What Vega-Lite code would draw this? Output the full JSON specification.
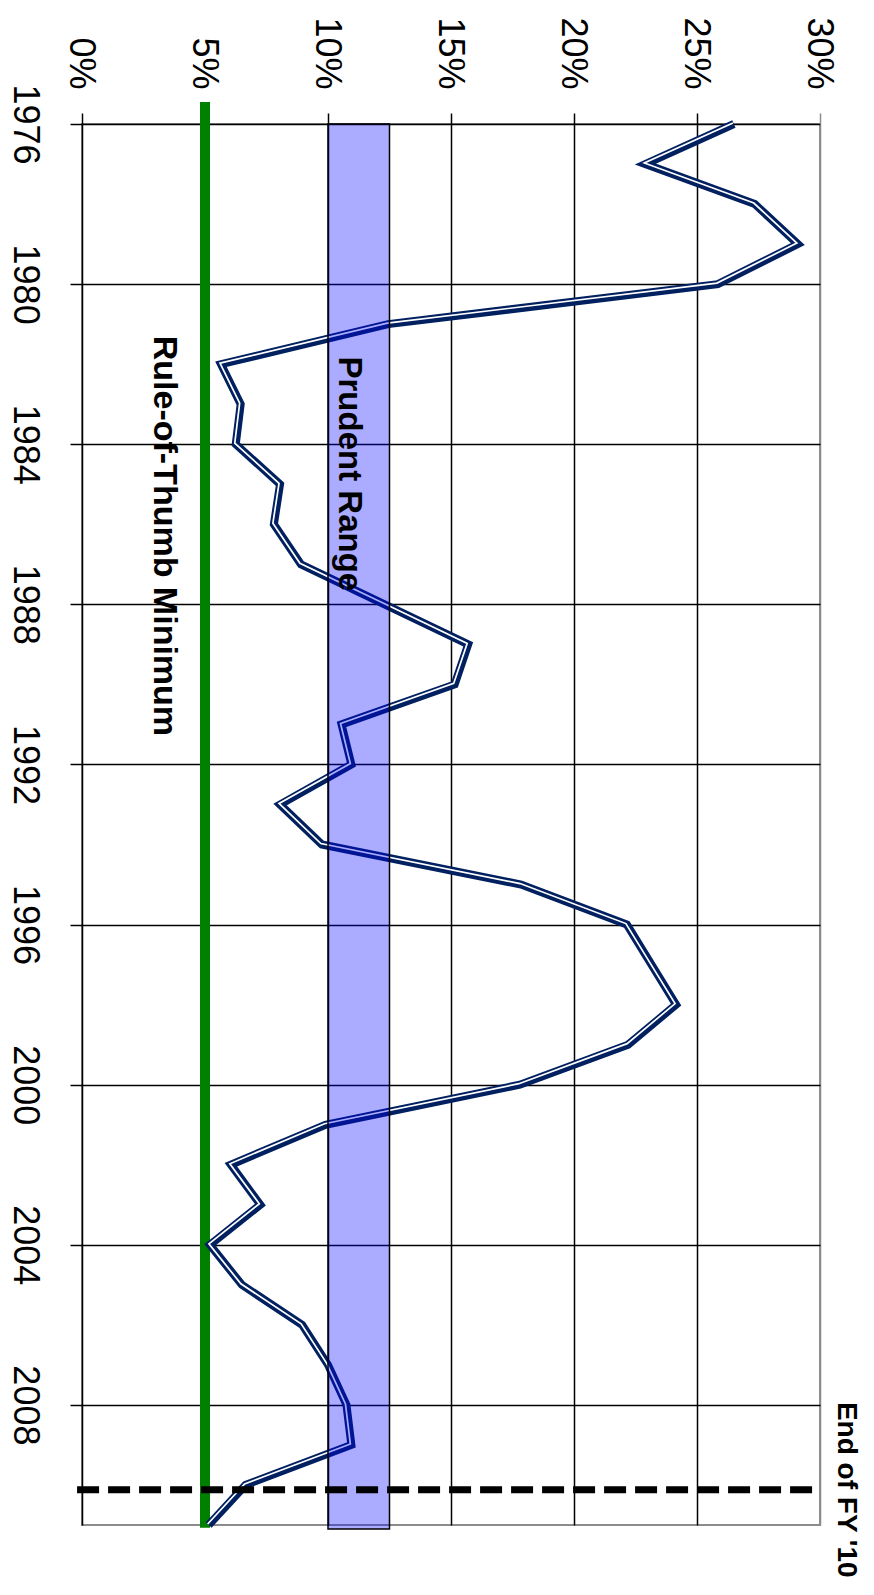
{
  "$schema": "https://vega.github.io/schema/vega-lite/v6.json",
  "width": 738,
  "height": 1401,
  "autosize": {"type": "none"},
  "padding": {"left": 82, "top": 124, "right": 54, "bottom": 70},
  "background": "white",
  "config": {
    "view": {"stroke": "#8c8c8c", "strokeWidth": 2},
    "font": "Liberation Sans"
  },
  "resolve": {"axis": {"x": "independent", "y": "independent"}},
  "datasets": {
    "ratio": [
      {"year": 1976, "pct": 26.5},
      {"year": 1977, "pct": 22.9},
      {"year": 1978, "pct": 27.35},
      {"year": 1979, "pct": 29.1},
      {"year": 1980, "pct": 25.85},
      {"year": 1981, "pct": 12.45},
      {"year": 1982, "pct": 5.65},
      {"year": 1983, "pct": 6.45},
      {"year": 1984, "pct": 6.25},
      {"year": 1985, "pct": 8.05},
      {"year": 1986, "pct": 7.8},
      {"year": 1987, "pct": 8.9},
      {"year": 1988, "pct": 12.3},
      {"year": 1989, "pct": 15.7},
      {"year": 1990, "pct": 15.15},
      {"year": 1991, "pct": 10.55},
      {"year": 1992, "pct": 10.95},
      {"year": 1993, "pct": 8.05},
      {"year": 1994, "pct": 9.75},
      {"year": 1995, "pct": 17.85},
      {"year": 1996, "pct": 22.15},
      {"year": 1997, "pct": 23.15},
      {"year": 1998, "pct": 24.15},
      {"year": 1999, "pct": 22.2},
      {"year": 2000, "pct": 17.8},
      {"year": 2001, "pct": 9.9},
      {"year": 2002, "pct": 6.05},
      {"year": 2003, "pct": 7.25},
      {"year": 2004, "pct": 5.2},
      {"year": 2005, "pct": 6.5},
      {"year": 2006, "pct": 8.95},
      {"year": 2007, "pct": 10.0},
      {"year": 2008, "pct": 10.75},
      {"year": 2009, "pct": 10.95},
      {"year": 2010, "pct": 6.65},
      {"year": 2011, "pct": 5.15}
    ],
    "band": [{"lo": 10, "hi": 12.5, "start": 1976, "end": 2011.1}],
    "minimum": [{"pct": 5, "start": 1975.45, "end": 2011.07}],
    "fyend": [{"year": 2010.12, "from": -0.2, "to": 29.7}],
    "lblPrudent": [{"pct": 10.87, "year": 1984.74, "text": "Prudent Range"}],
    "lblRule": [{"pct": 3.33, "year": 1986.29, "text": "Rule-of-Thumb Minimum"}],
    "lblEnd": [{"pct": 31.07, "year": 2010.12, "text": "End of FY '10"}]
  },
  "layer": [
    {
      "data": {"name": "minimum"},
      "mark": {"type": "rule", "color": "#008000", "strokeWidth": 10},
      "encoding": {
        "x": {
          "field": "pct", "type": "quantitative",
          "scale": {"domain": [0, 30], "nice": false, "zero": false},
          "axis": {
            "orient": "top", "title": null, "domain": false,
            "values": [0, 5, 10, 15, 20, 25, 30],
            "labelExpr": "datum.value + '%'",
            "labelAngle": 90, "labelAlign": "right", "labelBaseline": "middle",
            "labelFontSize": 36, "labelFont": "Liberation Sans", "labelColor": "black",
            "labelPadding": 24, "labelOffset": -2,
            "tickSize": 11, "tickWidth": 1.5,
            "tickColor": {"condition": {"test": "datum.value >= 30", "value": "#8c8c8c"}, "value": "black"},
            "grid": true, "gridWidth": 1.5, "gridOpacity": 1,
            "gridColor": {"condition": {"test": "datum.value >= 30", "value": "#8c8c8c"}, "value": "black"}
          }
        },
        "y": {
          "field": "start", "type": "quantitative",
          "scale": {"domain": [1976, 2011], "nice": false, "zero": false, "reverse": true},
          "axis": {
            "orient": "left", "title": null, "domain": false,
            "values": [1976, 1980, 1984, 1988, 1992, 1996, 2000, 2004, 2008],
            "format": "d",
            "labelAngle": 90, "labelAlign": "center", "labelBaseline": "top",
            "labelFontSize": 36, "labelFont": "Liberation Sans", "labelColor": "black",
            "labelPadding": 29,
            "tickSize": 12, "tickWidth": 1.5, "tickColor": "black",
            "grid": true, "gridWidth": 1.5, "gridOpacity": 1, "gridColor": "black"
          }
        },
        "y2": {"field": "end"}
      }
    },
    {
      "data": {"name": "ratio"},
      "mark": {"type": "line", "color": "#002060", "strokeWidth": 8, "strokeJoin": "miter"},
      "encoding": {
        "x": {"field": "pct", "type": "quantitative", "scale": {"domain": [0, 30], "nice": false, "zero": false}, "axis": null},
        "y": {"field": "year", "type": "quantitative", "scale": {"domain": [1976, 2011], "nice": false, "zero": false, "reverse": true}, "axis": null},
        "order": {"field": "year", "type": "quantitative"}
      }
    },
    {
      "data": {"name": "ratio"},
      "mark": {"type": "line", "color": "white", "strokeWidth": 1.7, "strokeJoin": "miter", "xOffset": -1, "yOffset": -1},
      "encoding": {
        "x": {"field": "pct", "type": "quantitative", "scale": {"domain": [0, 30], "nice": false, "zero": false}, "axis": null},
        "y": {"field": "year", "type": "quantitative", "scale": {"domain": [1976, 2011], "nice": false, "zero": false, "reverse": true}, "axis": null},
        "order": {"field": "year", "type": "quantitative"}
      }
    },
    {
      "data": {"name": "band"},
      "mark": {"type": "rect", "fill": "#0000ff", "fillOpacity": 0.33, "stroke": "black", "strokeWidth": 1.5},
      "encoding": {
        "x": {"field": "lo", "type": "quantitative", "scale": {"domain": [0, 30], "nice": false, "zero": false}, "axis": null},
        "x2": {"field": "hi"},
        "y": {"field": "start", "type": "quantitative", "scale": {"domain": [1976, 2011], "nice": false, "zero": false, "reverse": true}, "axis": null},
        "y2": {"field": "end"}
      }
    },
    {
      "data": {"name": "fyend"},
      "mark": {"type": "rule", "color": "black", "strokeWidth": 7, "strokeDash": [22, 9]},
      "encoding": {
        "x": {"field": "from", "type": "quantitative", "scale": {"domain": [0, 30], "nice": false, "zero": false}, "axis": null},
        "x2": {"field": "to"},
        "y": {"field": "year", "type": "quantitative", "scale": {"domain": [1976, 2011], "nice": false, "zero": false, "reverse": true}, "axis": null}
      }
    },
    {
      "data": {"name": "lblPrudent"},
      "mark": {"type": "text", "angle": 90, "align": "center", "baseline": "middle", "fontSize": 33, "fontWeight": "bold", "font": "Liberation Sans", "color": "black"},
      "encoding": {
        "x": {"field": "pct", "type": "quantitative", "scale": {"domain": [0, 30], "nice": false, "zero": false}, "axis": null},
        "y": {"field": "year", "type": "quantitative", "scale": {"domain": [1976, 2011], "nice": false, "zero": false, "reverse": true}, "axis": null},
        "text": {"field": "text"}
      }
    },
    {
      "data": {"name": "lblRule"},
      "mark": {"type": "text", "angle": 90, "align": "center", "baseline": "middle", "fontSize": 34, "fontWeight": "bold", "font": "Liberation Sans", "color": "black"},
      "encoding": {
        "x": {"field": "pct", "type": "quantitative", "scale": {"domain": [0, 30], "nice": false, "zero": false}, "axis": null},
        "y": {"field": "year", "type": "quantitative", "scale": {"domain": [1976, 2011], "nice": false, "zero": false, "reverse": true}, "axis": null},
        "text": {"field": "text"}
      }
    },
    {
      "data": {"name": "lblEnd"},
      "mark": {"type": "text", "angle": 90, "align": "center", "baseline": "middle", "fontSize": 28, "fontWeight": "bold", "font": "Liberation Sans", "color": "black"},
      "encoding": {
        "x": {"field": "pct", "type": "quantitative", "scale": {"domain": [0, 30], "nice": false, "zero": false}, "axis": null},
        "y": {"field": "year", "type": "quantitative", "scale": {"domain": [1976, 2011], "nice": false, "zero": false, "reverse": true}, "axis": null},
        "text": {"field": "text"}
      }
    }
  ]
}
